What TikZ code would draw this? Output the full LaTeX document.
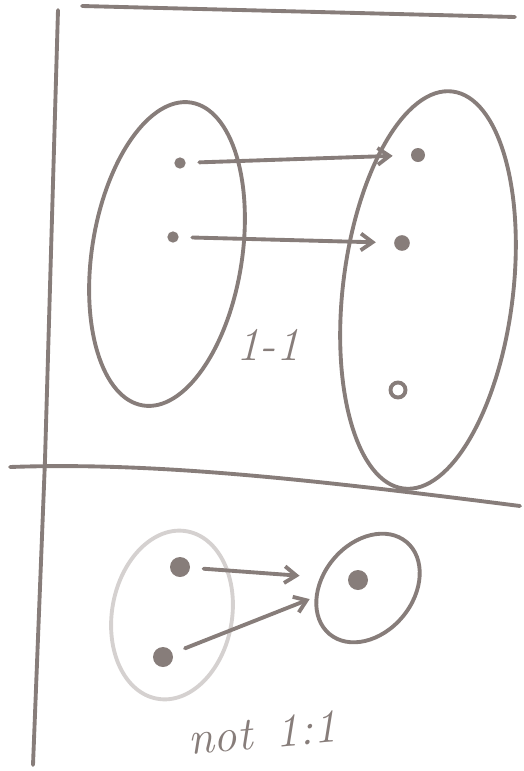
\documentclass[tikz,border=0pt]{standalone}
\usepackage{tikz}
\usetikzlibrary{arrows.meta,shapes.geometric}
\definecolor{PencilGrey}{RGB}{135,125,122}

\begin{document}
\begin{tikzpicture}[x=0.03cm, y=-0.03cm, color=PencilGrey, line width=3.3pt, line cap=round,
  set/.style={draw, ellipse, inner sep=0pt},
  elem/.style={circle, fill, inner sep=0pt, minimum size=#1},
  map/.style={-{Straight Barb[length=3.5mm,width=5mm]}, shorten <=10pt, shorten >=14pt},
  hand/.style={font=\fontsize{40}{44}\selectfont\itshape}]
\useasboundingbox (0,0) rectangle (523,771);
% frame lines
\draw (82,6) -- (515,17);
\draw (58,10) -- (45,460) -- (33,765);
\draw (10,467) .. controls (150,462) and (300,478) .. (520,506);
% 1-1 mapping
\node[set, minimum width=4.5cm, minimum height=9.2cm, rotate=-9] (domA) at (167,254) {};
\node[set, minimum width=5.1cm, minimum height=12cm, rotate=-7] (codA) at (428,290) {};
\node[elem=0.34cm] (a1) at (180,163) {};
\node[elem=0.34cm] (a2) at (173,237) {};
\node[elem=0.42cm] (b1) at (418,155) {};
\node[elem=0.47cm] (b2) at (402,243) {};
\node[draw, circle, inner sep=0pt, minimum size=0.45cm] (b3) at (398,390) {};
\draw[map] (a1) -- (b1);
\draw[map] (a2) -- (b2);
\node[hand] (oneone) at (268,345) {1-1};
% not 1:1
\node[set, draw=PencilGrey!35, minimum width=3.6cm, minimum height=5.1cm, rotate=-10] (domB) at (172,615) {};
\node[set, minimum width=3.6cm, minimum height=2.7cm, rotate=50] (codB) at (368,588) {};
\node[elem=0.6cm] (c1) at (180,567) {};
\node[elem=0.6cm] (c2) at (163,657) {};
\node[elem=0.6cm] (d1) at (358,580) {};
\draw[map, shorten >=1.4cm] (c1) -- (d1);
\draw[map, shorten >=1.2cm] (c2) -- (d1);
\node[hand, rotate=5] (notone) at (262,733) {not\hspace{0.5em}1:1};
\end{tikzpicture}
\end{document}
